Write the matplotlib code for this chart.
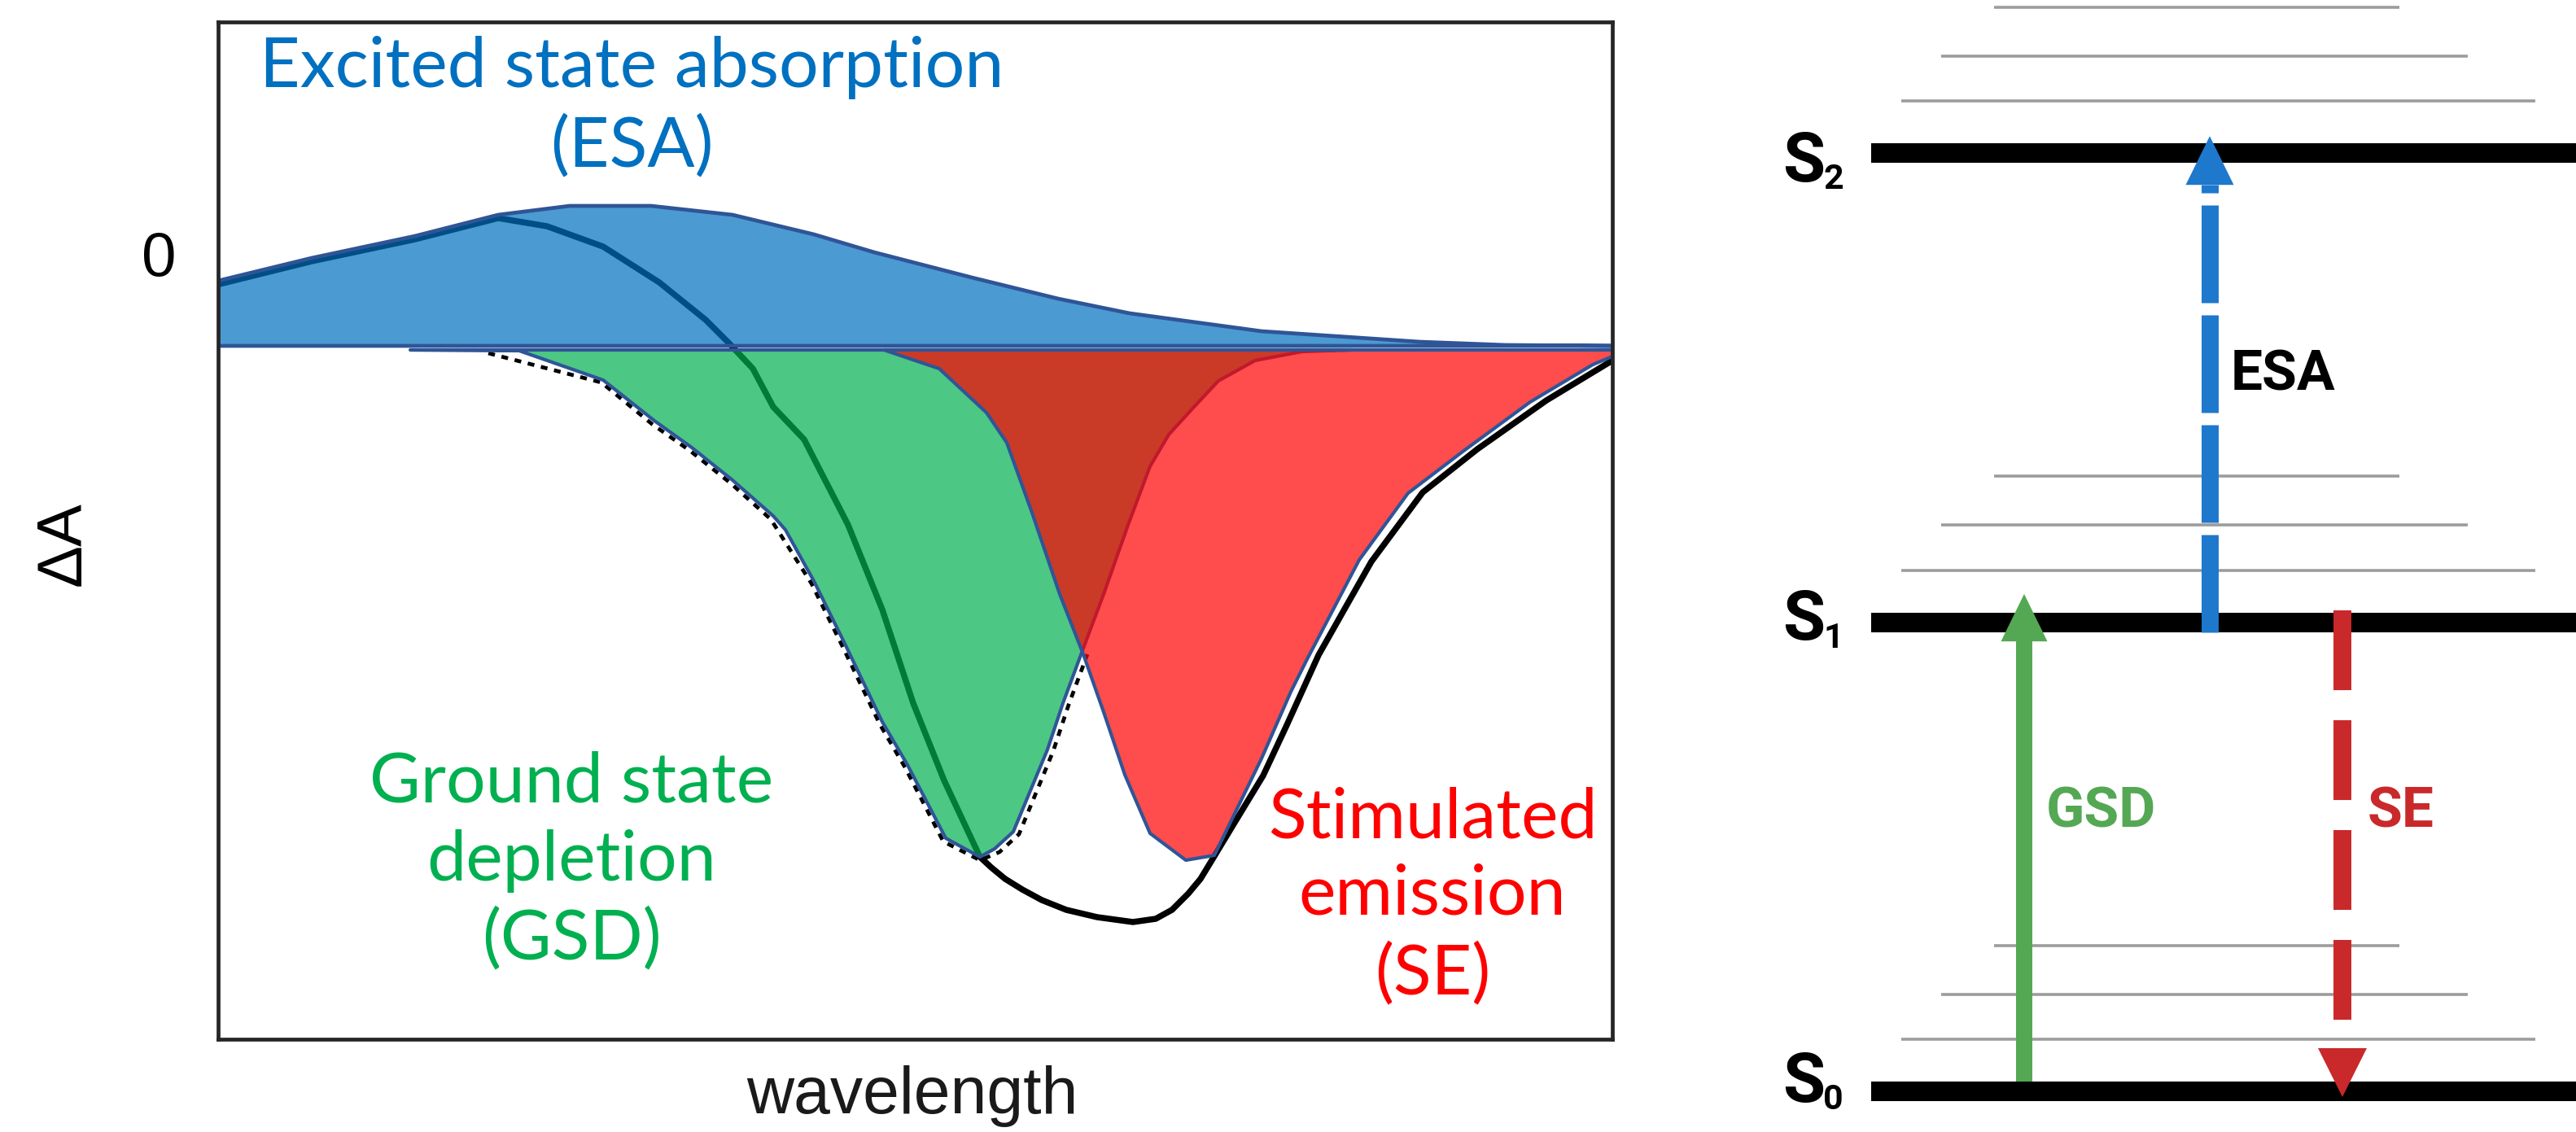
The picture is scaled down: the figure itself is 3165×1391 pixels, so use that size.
import matplotlib
matplotlib.use("Agg")
import matplotlib.pyplot as plt
import numpy as np
from matplotlib.colors import to_rgba

plt.rcParams['lines.scale_dashes'] = False

# ---------------- data: transient absorption spectrum (arbitrary units) ----------------
# Excited state absorption (positive band)
esa_wl = [0.0, 11.5, 24.2, 34.4, 43.2, 53.2, 63.2, 73.2, 80.6, 92.6, 103.2, 112.0, 128.2, 147.6, 158.2, 171.3]
esa_dA = [0.080, 0.108, 0.135, 0.161, 0.172, 0.172, 0.161, 0.137, 0.115, 0.084, 0.058, 0.040, 0.018, 0.005, 0.001, 0.0]

# Ground state depletion (negative band)
gsd_wl = [23.6, 37.0, 47.3, 53.6, 58.2, 63.2, 68.2, 69.7, 73.2, 77.0, 81.6, 84.7, 89.4, 93.6, 95.4, 97.7,
          101.9, 103.8, 106.1, 108.8, 111.8, 114.5, 116.8, 119.9, 122.9, 127.4, 133.2, 139.2]
gsd_dA = [-0.005, -0.006, -0.042, -0.092, -0.125, -0.165, -0.209, -0.226, -0.289, -0.366, -0.462, -0.515,
          -0.605, -0.628, -0.618, -0.597, -0.496, -0.439, -0.377, -0.305, -0.220, -0.148, -0.109, -0.075,
          -0.043, -0.018, -0.007, -0.005]

# Stimulated emission (negative band)
se_wl = [81.8, 88.6, 94.4, 96.9, 100.0, 103.4, 106.3, 108.8, 111.4, 114.5, 118.9, 122.4, 128.2, 131.8,
         133.8, 140.2, 146.2, 152.9, 161.2, 168.9, 171.3, 171.3]
se_dA = [-0.005, -0.028, -0.082, -0.119, -0.205, -0.305, -0.379, -0.450, -0.527, -0.599, -0.632, -0.626,
         -0.507, -0.425, -0.385, -0.263, -0.181, -0.130, -0.069, -0.023, -0.013, -0.005]

# Total measured signal (solid black)
tot_wl = [0.2, 11.5, 24.2, 34.4, 40.4, 47.3, 54.2, 59.9, 62.8, 65.7, 68.2, 72.0, 77.4, 81.6, 85.4, 89.2,
          93.6, 95.0, 96.7, 98.8, 101.2, 104.2, 108.0, 112.4, 115.2, 117.2, 119.2, 120.7, 122.1, 125.0,
          128.4, 131.3, 135.2, 141.7, 148.0, 154.7, 163.2, 171.3]
tot_dA = [0.076, 0.104, 0.131, 0.157, 0.147, 0.122, 0.078, 0.032, 0.003, -0.028, -0.075, -0.115, -0.220,
          -0.324, -0.439, -0.534, -0.628, -0.641, -0.655, -0.668, -0.681, -0.693, -0.702, -0.708, -0.704,
          -0.693, -0.673, -0.655, -0.632, -0.584, -0.528, -0.466, -0.380, -0.265, -0.180, -0.127, -0.067,
          -0.018]

# Ground state bleach reference (dashed black)
gsb_wl = [33.2, 47.1, 53.3, 58.0, 63.0, 67.9, 72.9, 76.7, 81.3, 84.4, 89.1, 93.6, 96.0, 98.4, 102.6, 104.5, 106.8]
gsb_dA = [-0.009, -0.045, -0.096, -0.129, -0.169, -0.213, -0.292, -0.369, -0.465, -0.518, -0.609, -0.632,
          -0.622, -0.600, -0.498, -0.441, -0.379]

# ---------------- data: energy level diagram ----------------
level_sub = ['0', '1', '2']
level_E = [0.0, 1.0, 2.0]
vib_offsets = [0.111, 0.207, 0.311]

# ---------------- figure ----------------
W, H, DPI = 3165, 1391, 100
fig = plt.figure(figsize=(W / DPI, H / DPI), dpi=DPI)
fig.patch.set_facecolor('white')

OUTLINE = '#2F5597'

# ---- left panel ----
ax = fig.add_axes([268 / W, (H - 1277) / H, (1981 - 268) / W, (1277 - 27) / H])
ax.set_xlim(0, 171.3)
ax.set_ylim(-0.852, 0.398)
ax.set_xticks([])
ax.set_yticks([])
for sp in ax.spines.values():
    sp.set_linewidth(3.4)
    sp.set_color('#262626')
    sp.set_zorder(10)

ax.plot(tot_wl, tot_dA, color='black', lw=5.4, zorder=1, solid_capstyle='round', solid_joinstyle='round')
ax.plot(gsb_wl, gsb_dA, color='black', lw=3.4, zorder=1, dashes=(6, 6))

esa_x = np.concatenate([[0.0], esa_wl])
esa_y = np.concatenate([[0.0], esa_dA])
ax.fill(esa_x, esa_y, facecolor=to_rgba('#0070C0', 0.7), edgecolor=OUTLINE, lw=3.4, zorder=2,
        joinstyle='round')
ax.fill(gsd_wl, gsd_dA, facecolor=to_rgba('#00B050', 0.7), edgecolor=OUTLINE, lw=3.0, zorder=3,
        joinstyle='round')
ax.fill(se_wl, se_dA, facecolor=to_rgba('#FF0000', 0.7), edgecolor=OUTLINE, lw=3.0, zorder=4,
        joinstyle='round')

# coloured labels (one common size fitted to the long ESA line)
renderer = fig.canvas.get_renderer()
LBL_FONT = 'Lato'
probe = ax.text(0, 0, 'Excited state absorption', fontsize=60, family=LBL_FONT)
bw = probe.get_window_extent(renderer).width
probe.remove()
fs = 60 * 915 / bw

def lbl(x, y, s, c):
    ax.text(x, y, s, fontsize=fs, family=LBL_FONT, color=c, ha='center', va='baseline',
            zorder=12, clip_on=False)

lbl(50.8, 0.318, 'Excited state absorption', '#0070C0')
lbl(50.8, 0.221, '(ESA)', '#0070C0')
lbl(43.4, -0.561, 'Ground state', '#00B050')
lbl(43.4, -0.657, 'depletion', '#00B050')
lbl(43.4, -0.753, '(GSD)', '#00B050')
lbl(149.2, -0.604, 'Stimulated', '#FF0000')
lbl(149.2, -0.699, 'emission', '#FF0000')
lbl(149.2, -0.796, '(SE)', '#FF0000')

AX_FONT = 'Liberation Sans'
fig.text(195 / W, 1 - 320 / H, '0', fontsize=55, family=AX_FONT, ha='center', va='center', color='black')
fig.text(78 / W, 1 - 668 / H, 'ΔA', fontsize=56, family=AX_FONT, ha='center', va='center',
         rotation=90, color='black')
fig.text(1121 / W, 1 - 1368 / H, 'wavelength', fontsize=58, family=AX_FONT, ha='center',
         va='baseline', color='#1a1a1a')

# ---- right panel: energy levels ----
PX_E = 576.5  # pixels per energy unit
ax2 = fig.add_axes([2100 / W, 0, 1065 / W, 1])
ax2.set_xlim(0, 1065)
ax2.set_ylim(-50 / PX_E, 1341 / PX_E)
ax2.axis('off')

vib_spans = [(236, 1015), (285, 932), (350, 848)]
for E in level_E:
    ax2.plot([199, 1065], [E, E], color='black', lw=17.3, solid_capstyle='butt', zorder=2)
    for off, (x0, x1) in zip(vib_offsets, vib_spans):
        ax2.plot([x0, x1], [E + off, E + off], color='#9c9c9c', lw=2.6, solid_capstyle='butt', zorder=1)

label_drop = [0.023, 0.038, 0.061]
for E, sub, d in zip(level_E, level_sub, label_drop):
    ax2.text(90, E - d, 'S', fontsize=61, family='Roboto', fontweight='bold', ha='left',
             va='baseline', color='black')
    ax2.text(140, E - d - 0.016, sub, fontsize=31, family='Roboto', fontweight='bold', ha='left',
             va='baseline', color='black')

GREEN, BLUE, RED = '#54A854', '#1E78CC', '#C9292B'

def head(x, base, tip, c, hw=29.5):
    ax2.fill([x - hw, x + hw, x], [base, base, tip], color=c, lw=0, zorder=5)

# GSD: S0 -> S1 (solid)
xg = 387
ax2.plot([xg, xg], [level_E[0] + 0.021, level_E[1] - 0.035], color=GREEN, lw=14.4,
         solid_capstyle='butt', zorder=4)
head(xg, level_E[1] - 0.041, level_E[1] + 0.06, GREEN, hw=28.5)

# ESA: S1 -> S2 (dashed)
xe = 615
ax2.plot([xe, xe], [level_E[1] - 0.022, level_E[2] - 0.068], color=BLUE, lw=15.1,
         dashes=(86.4, 10.8), zorder=4)
head(xe, level_E[2] - 0.068, level_E[2] + 0.036, BLUE)

# SE: S1 -> S0 (dashed)
xs = 778
ax2.plot([xs, xs], [level_E[1] + 0.025, level_E[0] + 0.092], color=RED, lw=15.8,
         dashes=(70.6, 26.6), zorder=4)
head(xs, level_E[0] + 0.092, level_E[0] - 0.012, RED, hw=30)

ax2.text(481, 0.595, 'GSD', fontsize=50, family='Roboto', fontweight='bold', color=GREEN,
         ha='center', va='center')
ax2.text(705, 1.526, 'ESA', fontsize=50, family='Roboto', fontweight='bold', color='black',
         ha='center', va='center')
ax2.text(850, 0.595, 'SE', fontsize=50, family='Roboto', fontweight='bold', color=RED,
         ha='center', va='center')

fig.savefig('out.png', dpi=DPI, facecolor='white')
